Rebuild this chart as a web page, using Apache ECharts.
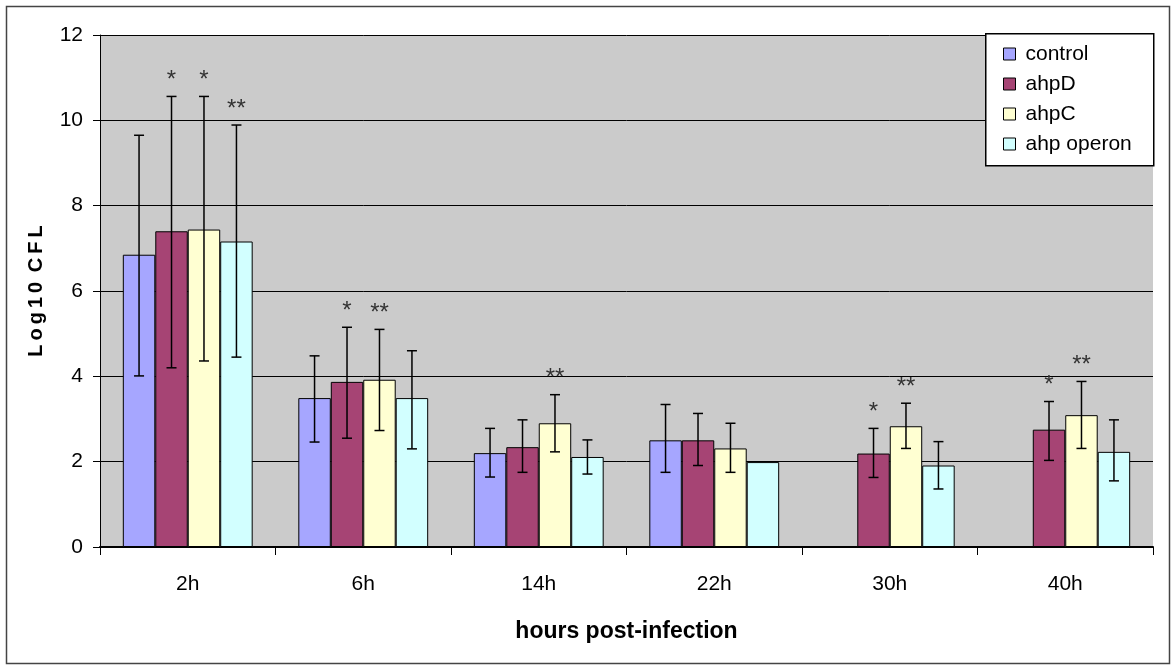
<!DOCTYPE html>
<html>
<head>
<meta charset="utf-8">
<script src="https://cdn.jsdelivr.net/npm/echarts@6/dist/echarts.min.js"></script>
<style>html,body{margin:0;padding:0;background:#fff;}#c{width:1172px;height:665px;}</style>
</head>
<body>
<div id="c"></div>
<script>
const categories = ['2h', '6h', '14h', '22h', '30h', '40h'];
const seriesNames = ['control', 'ahpD', 'ahpC', 'ahp operon'];
const yTicks = [0, 2, 4, 6, 8, 10, 12];

const control = [6.85, 3.49, 2.20, 2.50, null, null];
const ahpD = [7.40, 3.87, 2.34, 2.50, 2.19, 2.75];
const ahpC = [7.44, 3.92, 2.90, 2.31, 2.83, 3.09];
const operon = [7.16, 3.49, 2.11, 1.99, 1.91, 2.23];

const controlLow = [4.01, 2.46, 1.64, 1.75, null, null];
const controlHigh = [9.65, 4.48, 2.78, 3.34, null, null];
const ahpDLow = [4.20, 2.55, 1.75, 1.91, 1.63, 2.03];
const ahpDHigh = [10.56, 5.15, 2.98, 3.13, 2.78, 3.41];
const ahpCLow = [4.36, 2.73, 2.23, 1.75, 2.31, 2.31];
const ahpCHigh = [10.56, 5.10, 3.57, 2.90, 3.37, 3.88];
const operonLow = [4.45, 2.30, 1.71, null, 1.36, 1.55];
const operonHigh = [9.89, 4.60, 2.51, null, 2.47, 2.98];

const controlStars = ['', '', '', '', '', ''];
const ahpDStars = ['*', '*', '', '', '*', '*'];
const ahpCStars = ['*', '**', '**', '', '**', '**'];
const operonStars = ['**', '', '', '', '', ''];

const colors = ['#a6a6ff', '#a64474', '#ffffd2', '#d2ffff'];
const FONT = "'Liberation Sans', Arial, sans-serif";
const GAP = 0.26;

const values = [control, ahpD, ahpC, operon];
const lows = [controlLow, ahpDLow, ahpCLow, operonLow];
const highs = [controlHigh, ahpDHigh, ahpCHigh, operonHigh];
const stars = [controlStars, ahpDStars, ahpCStars, operonStars];

const chart = echarts.init(document.getElementById('c'), null, {renderer: 'canvas'});

const barSeries = seriesNames.map((n, k) => ({
  name: n,
  type: 'bar',
  data: values[k].map(v => v == null ? '-' : v),
  barGap: '0%',
  barCategoryGap: (GAP * 100) + '%',
  itemStyle: {color: colors[k], borderColor: '#000', borderWidth: 1},
  emphasis: {disabled: true},
  z: 2
}));

const errSeries = seriesNames.map((n, k) => ({
  name: n + ' err',
  type: 'custom',
  z: 5,
  data: categories.map((c, i) => [i, lows[k][i], highs[k][i], stars[k][i]]),
  renderItem: function (params, api) {
    const i = api.value(0);
    const lo = lows[k][i], hi = highs[k][i], st = stars[k][i];
    const band = api.size([1, 0])[0];
    const bw = band * (1 - GAP) / 4;
    const base = api.coord([i, 0]);
    const x = base[0] + (k - 1.5) * bw;
    const children = [];
    let topY = null;
    if (lo != null && hi != null) {
      const yl = api.coord([i, lo])[1];
      const yh = api.coord([i, hi])[1];
      topY = yh;
      const st2 = {stroke: '#000', lineWidth: 1.5};
      children.push({type: 'line', shape: {x1: x, y1: yl, x2: x, y2: yh}, style: st2});
      children.push({type: 'line', shape: {x1: x - 5, y1: yl, x2: x + 5, y2: yl}, style: st2});
      children.push({type: 'line', shape: {x1: x - 5, y1: yh, x2: x + 5, y2: yh}, style: st2});
    }
    if (st && topY != null) {
      children.push({
        type: 'text',
        style: {
          text: st, x: x, y: topY - 4,
          fill: '#333', font: '24px ' + FONT,
          textAlign: 'center', textVerticalAlign: 'bottom'
        }
      });
    }
    return {type: 'group', children: children};
  }
}));

chart.setOption({
  animation: false,
  backgroundColor: '#fff',
  textStyle: {fontFamily: FONT},
  graphic: [{
    type: 'rect', left: 4, top: 4, z: -10,
    shape: {width: 1163, height: 657},
    style: {fill: 'none', stroke: '#444', lineWidth: 1.5}
  }, {
    type: 'rect', left: 985, top: 33, z: 10,
    shape: {width: 168, height: 132},
    style: {fill: '#fff', stroke: '#000', lineWidth: 1.5}
  }],
  grid: {left: 100, right: 19, top: 35, bottom: 118, show: true, backgroundColor: '#cbcbcb', borderWidth: 0},
  legend: {
    data: seriesNames,
    orient: 'vertical',
    left: 1003, top: 43,
    z: 20,
    padding: 0,
    itemGap: 8,
    itemWidth: 12, itemHeight: 12,
    icon: 'rect',
    itemStyle: {borderColor: '#000', borderWidth: 1},
    textStyle: {fontSize: 21, lineHeight: 22, color: '#000', fontFamily: FONT, padding: [0, 0, 0, 5]},
    selectedMode: false
  },
  xAxis: {
    type: 'category',
    data: categories,
    axisLine: {lineStyle: {color: '#000', width: 2}},
    axisTick: {show: true, length: 8, lineStyle: {color: '#000'}},
    axisLabel: {fontSize: 21, color: '#000', margin: 27, fontFamily: FONT},
    name: 'hours post-infection',
    nameLocation: 'middle',
    nameGap: 73,
    nameTextStyle: {fontSize: 23, fontWeight: 'bold', color: '#000', fontFamily: FONT}
  },
  yAxis: {
    type: 'value',
    min: yTicks[0], max: yTicks[yTicks.length - 1], interval: 2,
    axisLine: {show: true, lineStyle: {color: '#000', width: 1}},
    axisTick: {show: true, length: 7, lineStyle: {color: '#000'}},
    axisLabel: {fontSize: 21, color: '#000', margin: 17, fontFamily: FONT},
    splitLine: {show: true, lineStyle: {color: '#000', width: 1}},
    name: 'L\u2009o\u2009g\u20091\u20090\u2009 C\u2009F\u2009L',
    nameLocation: 'middle',
    nameGap: 54,
    nameRotate: 90,
    nameTextStyle: {fontSize: 20, fontWeight: 'bold', color: '#000', fontFamily: FONT}
  },
  series: barSeries.concat(errSeries)
});
</script>
</body>
</html>
